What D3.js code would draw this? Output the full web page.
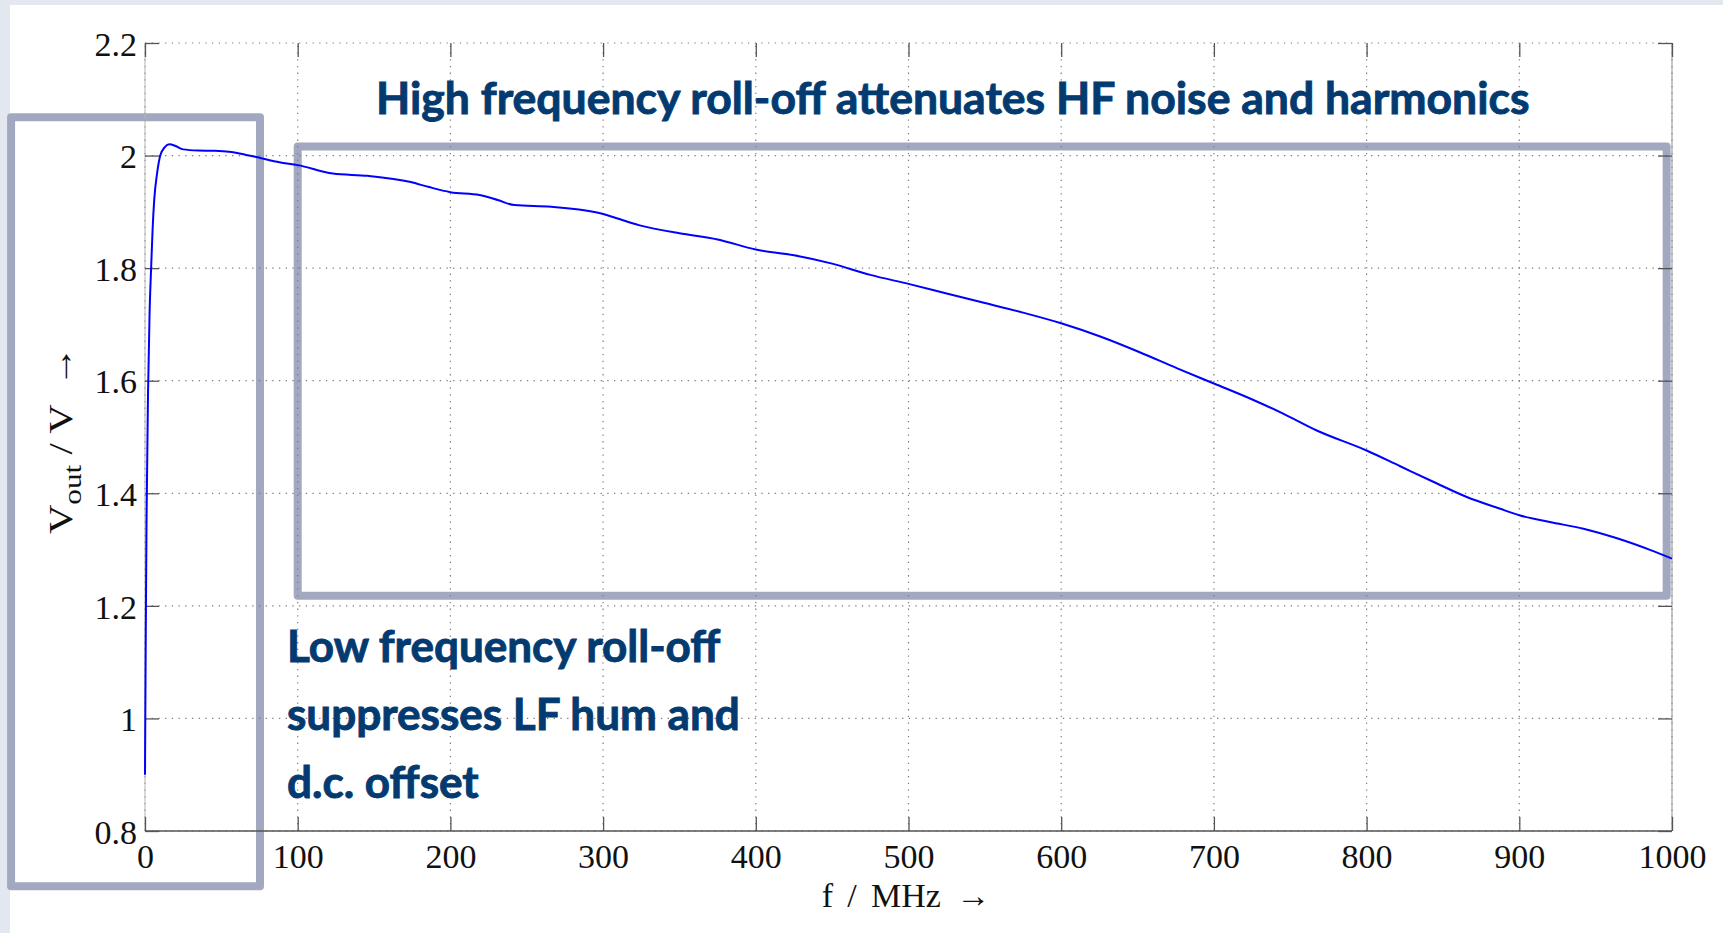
<!doctype html>
<html lang="en">
<head>
  <meta charset="utf-8">
  <title>Vout vs frequency</title>
  <style>
    html, body { margin: 0; padding: 0; background: #e3e8f0; }
    #chart { position: absolute; left: 0; top: 0; }
    .grid line { stroke: #7c7c7c; stroke-width: 1.2; stroke-dasharray: 1.3 5.4; }
    .tick-label { font-family: 'Liberation Serif', 'DejaVu Serif', serif; font-size: 34px; fill: #111; }
    .note { font-family: Lato, 'Open Sans', sans-serif; font-weight: 700; fill: #033a70;
            stroke: #033a70; stroke-width: 0.9; paint-order: stroke; }
    .anno-box { fill: none; stroke: #a1a8c0; stroke-width: 8; stroke-linejoin: round; }
  </style>
</head>
<body>
<div id="chart"></div>

<script src="https://d3js.org/d3.v7.min.js"></script>
<script>
  const freq = [0, 0.5, 1, 2, 3, 4, 5, 6, 8, 10, 13, 16, 20, 25, 35, 45, 55, 65, 75, 88,
    100, 123, 146, 174, 186, 200, 219, 231, 242, 266, 296, 324, 350, 375, 400, 425, 450, 475, 500,
    525, 550, 575, 600, 626, 651, 676, 700, 724, 745, 767, 800, 822, 844, 866, 887, 900,
    920, 942, 964, 986, 1000];
  const vout = [0.90, 1.15, 1.35, 1.58, 1.72, 1.80, 1.87, 1.92, 1.97, 2.00, 2.015, 2.02, 2.017, 2.011, 2.009, 2.0085, 2.0068, 2.002, 1.996, 1.988,
    1.983, 1.968, 1.964, 1.953, 1.944, 1.935, 1.930, 1.921, 1.912, 1.909, 1.899, 1.876, 1.862, 1.851, 1.833, 1.823, 1.808, 1.788, 1.772,
    1.755, 1.738, 1.721, 1.702, 1.678, 1.651, 1.622, 1.595, 1.568, 1.542, 1.512, 1.476, 1.448, 1.420, 1.393, 1.373, 1.361,
    1.349, 1.337, 1.320, 1.299, 1.284];

  const xTicks = [0, 100, 200, 300, 400, 500, 600, 700, 800, 900, 1000];
  const yTicks = [0.8, 1, 1.2, 1.4, 1.6, 1.8, 2, 2.2];
  const yTickLabels = ['0.8', '1', '1.2', '1.4', '1.6', '1.8', '2', '2.2'];

  const hfNote = ['High frequency roll-off attenuates HF noise and harmonics'];
  const lfNote = ['Low frequency roll-off', 'suppresses LF hum and', 'd.c. offset'];

  const W = 1723, H = 933;
  const margin = { top: 43, right: 51, bottom: 102, left: 145 };

  const svg = d3.select('#chart').append('svg')
    .attr('width', W)
    .attr('height', H);

  // white slide area (page shows a light strip on top and left)
  svg.append('rect')
    .attr('x', 10).attr('y', 5)
    .attr('width', W - 10).attr('height', H - 5)
    .attr('fill', '#ffffff');

  const x = d3.scaleLinear().domain([0, 1000]).range([margin.left, W - margin.right]);
  const y = d3.scaleLinear().domain([0.8, 2.2]).range([H - margin.bottom, margin.top]);

  // annotation frames, underneath everything else
  const frames = [
    { x0: -87.7, x1: 75.3, y0: 2.068, y1: 0.702 },
    { x0: 100, x1: 996.5, y0: 2.016, y1: 1.218 }
  ];
  svg.append('g').selectAll('rect')
    .data(frames)
    .join('rect')
    .attr('class', 'anno-box')
    .attr('x', d => x(d.x0))
    .attr('y', d => y(d.y0))
    .attr('width', d => x(d.x1) - x(d.x0))
    .attr('height', d => y(d.y1) - y(d.y0));

  // dotted grid
  const grid = svg.append('g').attr('class', 'grid');
  grid.selectAll('.vx')
    .data(xTicks)
    .join('line')
    .attr('x1', d => x(d)).attr('x2', d => x(d))
    .attr('y1', y(0.8)).attr('y2', y(2.2));
  grid.selectAll('.hy')
    .data(yTicks)
    .join('line')
    .attr('y1', d => y(d)).attr('y2', d => y(d))
    .attr('x1', x(0)).attr('x2', x(1000));

  // frame lines
  svg.append('line') // bottom
    .attr('x1', x(0)).attr('x2', x(1000)).attr('y1', y(0.8)).attr('y2', y(0.8))
    .attr('stroke', '#555').attr('stroke-width', 1.3);
  svg.append('line') // right
    .attr('x1', x(1000)).attr('x2', x(1000)).attr('y1', y(0.8)).attr('y2', y(2.2))
    .attr('stroke', '#999').attr('stroke-width', 1.1);
  svg.append('line') // left
    .attr('x1', x(0)).attr('x2', x(0)).attr('y1', y(0.8)).attr('y2', y(2.2))
    .attr('stroke', '#b5b5b5').attr('stroke-width', 1);

  // axes with inward ticks on all four sides
  const tickLen = 14;
  svg.append('g')
    .attr('transform', `translate(0,${y(0.8)})`)
    .call(d3.axisBottom(x).tickValues(xTicks).tickFormat(d3.format('d'))
      .tickSizeInner(-tickLen).tickSizeOuter(0).tickPadding(13));
  const yAxis = svg.append('g')
    .attr('transform', `translate(${x(0)},0)`)
    .call(d3.axisLeft(y).tickValues(yTicks).tickFormat((d, i) => yTickLabels[i])
      .tickSizeInner(-tickLen).tickSizeOuter(0).tickPadding(8));
  svg.append('g')
    .attr('transform', `translate(0,${y(2.2)})`)
    .call(d3.axisTop(x).tickValues(xTicks).tickSizeInner(-tickLen).tickSizeOuter(0).tickFormat(''));
  svg.append('g')
    .attr('transform', `translate(${x(1000)},0)`)
    .call(d3.axisRight(y).tickValues(yTicks).tickSizeInner(-tickLen).tickSizeOuter(0).tickFormat(''));

  svg.selectAll('.domain').remove();
  svg.selectAll('.tick line').attr('stroke', '#555').attr('stroke-width', 1.3);
  svg.selectAll('.tick text').attr('class', 'tick-label').attr('font-family', null).attr('font-size', null);
  yAxis.selectAll('.tick text').attr('dy', '0.36em');

  // axis titles
  svg.append('text')
    .attr('class', 'tick-label')
    .attr('x', 906).attr('y', 907)
    .attr('text-anchor', 'middle')
    .text('f \u2006/ \u2006MHz \u2009\u2192');

  // the original is stretched along the vertical, so the rotated title is too
  const yTitle = svg.append('text')
    .attr('class', 'tick-label')
    .attr('transform', `translate(72,440) rotate(-90) scale(1.2,1)`)
    .attr('text-anchor', 'middle');
  yTitle.append('tspan').text('V');
  yTitle.append('tspan').attr('font-size', 26).attr('dy', 9).text('out');
  yTitle.append('tspan').attr('dy', -9).text(' / V \u2009\u2192');

  // response curve
  const line = d3.line()
    .x((d, i) => x(freq[i]))
    .y(d => y(d))
    .curve(d3.curveMonotoneX);
  svg.append('path')
    .datum(vout)
    .attr('fill', 'none')
    .attr('stroke', '#0000ff')
    .attr('stroke-width', 2)
    .attr('d', line);

  // callout text, sized to the measured widths of the original
  function fitSize(sel, target) {
    const w = sel.node().getComputedTextLength();
    return 42 * target / w;
  }

  const hf = svg.append('text')
    .attr('class', 'note')
    .attr('x', 376).attr('y', 114)
    .attr('font-size', 42)
    .text(hfNote[0]);
  hf.attr('font-size', fitSize(hf, 1154));

  const lf = svg.append('g').selectAll('text')
    .data(lfNote)
    .join('text')
    .attr('class', 'note')
    .attr('x', 287)
    .attr('y', (d, i) => 662 + i * 68)
    .attr('font-size', 42)
    .text(d => d);
  const lfSize = fitSize(d3.select(lf.nodes()[1]), 453);
  lf.attr('font-size', lfSize);
</script>
</body>
</html>
